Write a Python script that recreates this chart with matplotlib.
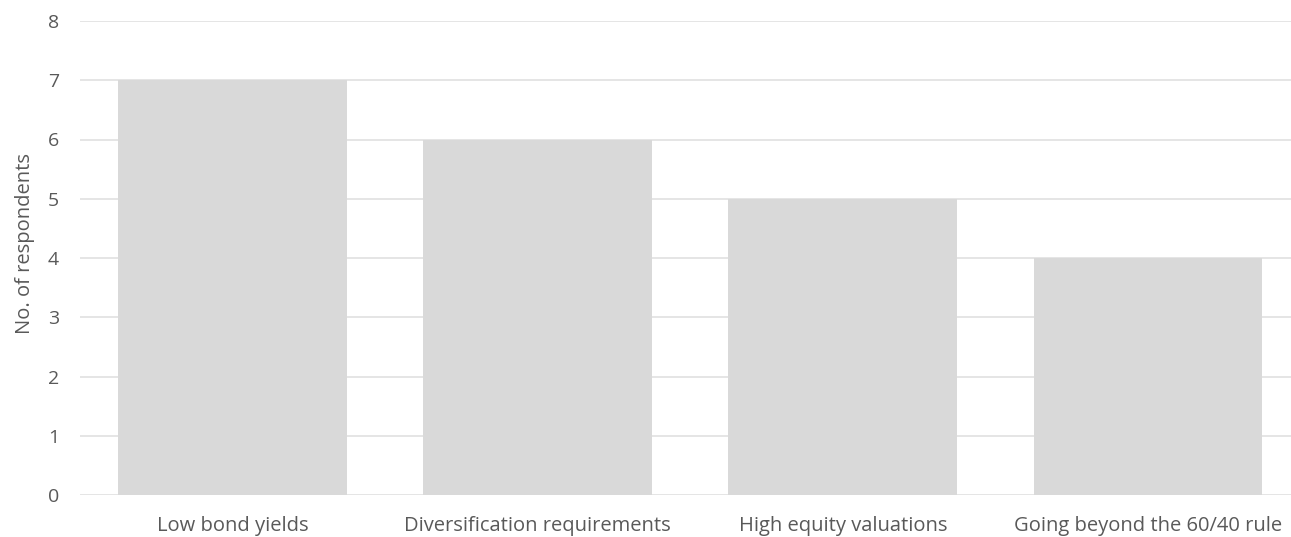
import matplotlib
matplotlib.use("Agg")
import matplotlib.pyplot as plt

categories = ["Low bond yields", "Diversification requirements",
              "High equity valuations", "Going beyond the 60/40 rule"]
values = [7, 6, 5, 4]
yticks = [0, 1, 2, 3, 4, 5, 6, 7, 8]

plt.rcParams['font.family'] = ['Open Sans', 'DejaVu Sans']
txt = '#595959'

fig = plt.figure(figsize=(12.91, 5.37), dpi=100)
W, H = 1291, 537
ax = fig.add_axes([80 / W, 42 / H, (1300.5 - 80) / W, (495 - 21) / H])

x = list(range(len(categories)))
ax.bar(x, values, width=0.75, color='#d9d9d9', zorder=3)
ax.set_xlim(-0.5, len(categories) - 0.5)
ax.set_ylim(0, 8)
ax.set_yticks(yticks)
ax.yaxis.grid(True, color='#e0e0e0', linewidth=1.2, zorder=0)
ax.set_axisbelow(True)
for s in ax.spines.values():
    s.set_visible(False)
ax.tick_params(axis='y', length=0, labelsize=14, labelcolor=txt, pad=15)
ax.tick_params(axis='x', length=0, labelsize=14.5, labelcolor=txt, pad=15)
ax.set_xticks(x)
ax.set_xticklabels(categories)
ax.set_ylabel("No. of respondents", fontsize=14.5, color=txt)
ax.yaxis.set_label_coords(-(80 - 35) / (1300.5 - 80), 0.53)

fig.savefig("out.png", dpi=100)
